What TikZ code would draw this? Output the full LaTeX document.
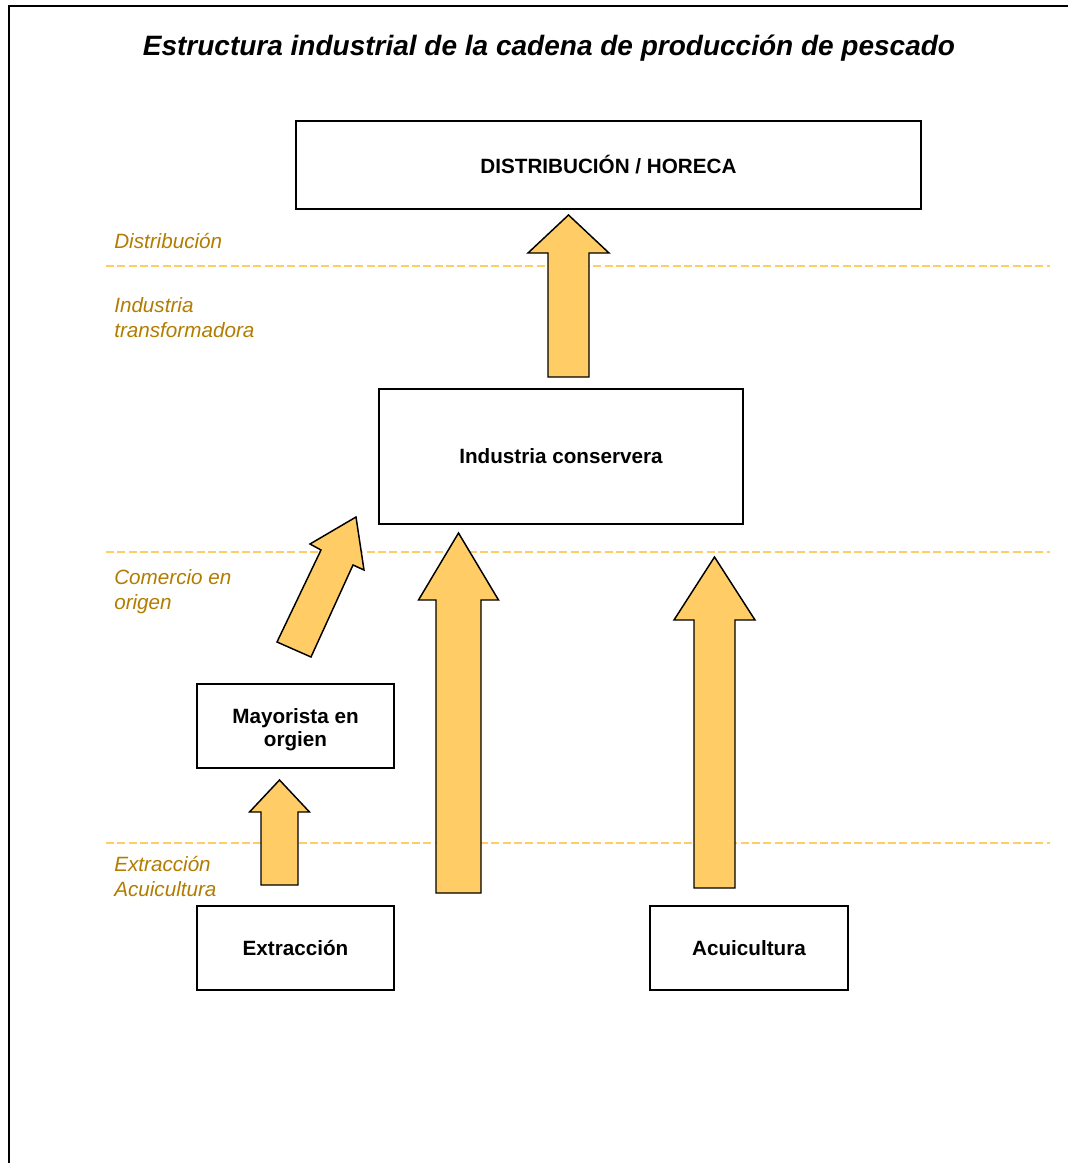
\documentclass[tikz,border=0pt]{standalone}
\usepackage{fontspec}
\setmainfont{Liberation Sans}
\usepackage{tikz}
\usetikzlibrary{arrows}

\definecolor{arrowyellow}{RGB}{255,204,102}
\definecolor{levelbrown}{RGB}{178,124,0}

\tikzset{
    stagebox/.style n args={2}{draw, line width=1.3pt, fill=white,
        minimum width=#1*0.75pt, minimum height=#2*0.75pt, inner sep=0pt,
        align=center, font=\bfseries\fontsize{15.5}{18}\selectfont},
    arrowfill/.style={fill=arrowyellow, draw=black, line width=1.1pt, line join=miter},
    levelline/.style={draw=arrowyellow, line width=1.5pt, dash pattern=on 6pt off 2.5pt},
    levellabel/.style={anchor=base west, inner sep=0pt, align=left, text=levelbrown,
        font=\itshape\fontsize{15.5}{18.75}\selectfont}
}

\begin{document}
\begin{tikzpicture}[x=0.75pt,y=-0.75pt]
    \useasboundingbox (0,0) rectangle (1075,1163);

    % frame
    \draw[line width=1.5pt] (9,1163) -- (9,6) -- (1068,6);

    \node[anchor=base, font=\bfseries\itshape\fontsize{21}{24}\selectfont] (title) at (549,56)
        {Estructura industrial de la cadena de producción de pescado};

    % level separators
    \foreach \y in {266,552,843} {
        \draw[levelline] (106,\y) -- (1050,\y);
    }

    % base anchor sits on the last line
    \node[levellabel] (ldist) at (114,248) {Distribución};
    \node[levellabel] (lind) at (114,337) {Industria\\transformadora};
    \node[levellabel] (lcom) at (114,609) {Comercio en\\origen};
    \node[levellabel] (lext) at (114,896) {Extracción\\Acuicultura};

    % stages
    \node[stagebox={625}{88}] (horeca) at (608.5,165) {DISTRIBUCIÓN / HORECA};
    \node[stagebox={364}{135}] (conserva) at (561,456.5) {Industria conservera};
    \node[stagebox={197}{84}] (mayorista) at (295.5,726)
        {\raisebox{-3pt}[\height][\depth]{\shortstack{Mayorista en\\orgien}}};
    \node[stagebox={197}{84}] (extraccion) at (295.5,948) {Extracción};
    \node[stagebox={198}{84}] (acuicultura) at (749,948) {Acuicultura};

    % block arrows
    \foreach \x/\ybot/\yhead/\ytip/\ws/\wh in {568.5/377/253/215/20.5/40.5,
            279.5/885/812/780/18.5/30, 458.5/893/600/533/22.5/40,
            714.5/888/620/557/20.5/40.5} {
        \filldraw[arrowfill] (\x-\ws,\ybot) -- (\x-\ws,\yhead) -- (\x-\wh,\yhead)
            -- (\x,\ytip) -- (\x+\wh,\yhead) -- (\x+\ws,\yhead) -- (\x+\ws,\ybot) -- cycle;
    }
    \filldraw[arrowfill] (277,642) -- (321,550) -- (310,544) -- (356,517)
        -- (364,570) -- (353,565) -- (311,657) -- cycle;
\end{tikzpicture}
\end{document}
